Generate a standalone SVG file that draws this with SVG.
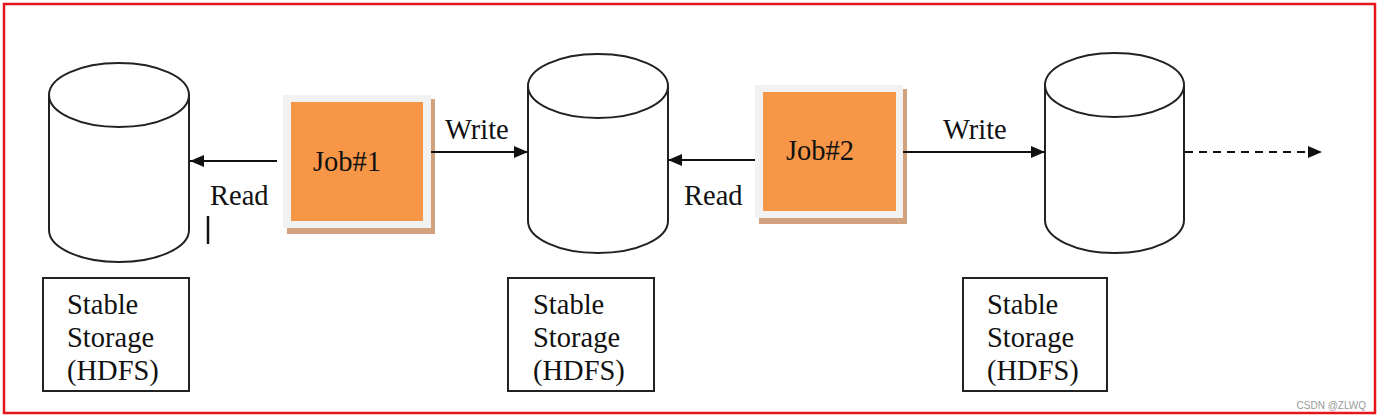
<svg xmlns="http://www.w3.org/2000/svg" width="1382" height="419" viewBox="0 0 1382 419">
<style>
.cyl{fill:#fff;stroke:#222;stroke-width:2}
.lbl{fill:#fff;stroke:#222;stroke-width:2}
.t{font-family:"Liberation Serif","Times New Roman",serif;font-size:28.5px;fill:#111}
.job{fill:#f79646}
.frame{fill:#f2f2f2}
.shadow{fill:#d2a27f}
.conn{stroke:#111;stroke-width:2;fill:none}
</style>
<defs>
<marker id="ah" viewBox="0 0 14 12" refX="14" refY="6" markerWidth="14" markerHeight="12" markerUnits="userSpaceOnUse" orient="auto">
<path d="M0,0 L14,6 L0,12 Z" fill="#111"/>
</marker>
</defs>
<rect x="4" y="4" width="1371" height="409" fill="#fff" stroke="#e8141c" stroke-width="2.5"/>

<g id="storage1">
<path class="cyl" d="M49,95 L49,230 A70,32 0 0 0 189,230 L189,95"/>
<ellipse class="cyl" cx="119" cy="95" rx="70" ry="32"/>
</g>
<g id="storage2">
<path class="cyl" d="M528,86 L528,221 A70,32 0 0 0 668,221 L668,86"/>
<ellipse class="cyl" cx="598" cy="86" rx="70" ry="32"/>
</g>
<g id="storage3">
<path class="cyl" d="M1045,85 L1045,220 A69.5,33 0 0 0 1184,220 L1184,85"/>
<ellipse class="cyl" cx="1114.5" cy="85" rx="69.5" ry="32"/>
</g>

<g id="job1">
<rect class="shadow" x="287" y="99" width="148" height="135"/>
<rect class="frame" x="283" y="95" width="148" height="133"/>
<rect class="job" x="291" y="102" width="132" height="119"/>
<text class="t" x="347" y="171" text-anchor="middle">Job#1</text>
</g>
<g id="job2">
<rect class="shadow" x="759" y="89" width="148" height="135"/>
<rect class="frame" x="755" y="85" width="148" height="133"/>
<rect class="job" x="763" y="92" width="133" height="119"/>
<text class="t" x="820" y="160" text-anchor="middle">Job#2</text>
</g>

<g id="label1">
<rect class="lbl" x="43" y="278" width="146" height="113"/>
<text class="t" x="67" y="314">Stable</text>
<text class="t" x="67" y="347">Storage</text>
<text class="t" x="67" y="380">(HDFS)</text>
</g>
<g id="label2">
<rect class="lbl" x="508" y="278" width="146" height="113"/>
<text class="t" x="533" y="314">Stable</text>
<text class="t" x="533" y="347">Storage</text>
<text class="t" x="533" y="380">(HDFS)</text>
</g>
<g id="label3">
<rect class="lbl" x="963" y="278" width="144" height="113"/>
<text class="t" x="987" y="314">Stable</text>
<text class="t" x="987" y="347">Storage</text>
<text class="t" x="987" y="380">(HDFS)</text>
</g>

<g id="connectors">
<line class="conn" x1="277" y1="161" x2="190" y2="161" marker-end="url(#ah)"/>
<line class="conn" x1="431" y1="152" x2="528" y2="152" marker-end="url(#ah)"/>
<line class="conn" x1="755" y1="160" x2="668" y2="160" marker-end="url(#ah)"/>
<line class="conn" x1="903" y1="152" x2="1045" y2="152" marker-end="url(#ah)"/>
<line class="conn" x1="1185" y1="152" x2="1322" y2="152" stroke-dasharray="8,6" marker-end="url(#ah)"/>
<line x1="208" y1="216" x2="208" y2="244" stroke="#111" stroke-width="2.5"/>
<text class="t" x="210" y="205">Read</text>
<text class="t" x="445" y="139">Write</text>
<text class="t" x="684" y="205">Read</text>
<text class="t" x="943" y="139">Write</text>
</g>
<text x="1366" y="409" text-anchor="end" font-family="Liberation Sans, Arial, sans-serif" font-size="10" fill="#999">CSDN @ZLWQ</text>
</svg>
